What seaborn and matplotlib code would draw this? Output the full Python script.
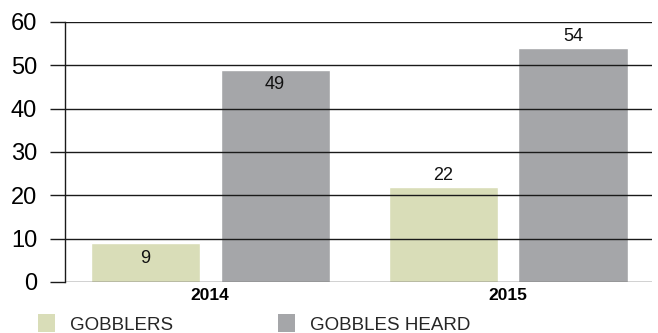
import matplotlib
matplotlib.use("Agg")
import matplotlib.pyplot as plt
import seaborn as sns
import pandas as pd

years = ["2014", "2015"]
series = ["GOBBLERS", "GOBBLES HEARD"]
gobblers = [9, 22]
gobbles_heard = [49, 54]
colors = ["#D9DDB8", "#A5A6A9"]

df = pd.DataFrame({
    "year": years * 2,
    "series": [series[0]] * len(years) + [series[1]] * len(years),
    "value": gobblers + gobbles_heard,
})

sns.set_theme(style="white")
plt.rcParams["font.family"] = ["Liberation Sans", "DejaVu Sans"]

fig = plt.figure(figsize=(6.58, 3.33), dpi=100)
ax = fig.add_axes([65/658, 1 - 282/333, (652 - 65)/658, (282 - 22)/333])

sns.barplot(data=df, x="year", y="value", hue="series", palette=colors,
            width=0.872, gap=0.16, ax=ax, legend=False, saturation=1)

ax.set_ylim(0, 60)
ax.set_xlim(-0.487, 1.483)
ax.set_yticks(range(0, 61, 10))
ax.set_axisbelow(False)
ax.yaxis.grid(True, color="#1a1a1a", linewidth=1.0, zorder=3)
ax.xaxis.grid(False)
for s in ["top", "right", "bottom"]:
    ax.spines[s].set_visible(False)
ax.spines["left"].set_color("#1a1a1a")
ax.spines["left"].set_linewidth(1.0)
ax.tick_params(axis="y", length=11, width=1.0, color="#1a1a1a", labelsize=17,
               pad=9, left=True, labelcolor="#000000")
ax.tick_params(axis="x", length=0, labelsize=12.5, pad=4, labelcolor="#000000")
for t in ax.get_xticklabels():
    t.set_fontweight("bold")
ax.set_xlabel("")
ax.set_ylabel("")

# value labels: 2014 inside top of bar, 2015 above bar
offsets = {"2014": -11, "2015": 8}
for cont, vals in zip(ax.containers, [gobblers, gobbles_heard]):
    for patch, v, yr in zip(cont.patches, vals, years):
        ax.annotate(str(v), (patch.get_x() + patch.get_width() / 2, v),
                    xytext=(0, offsets[yr]), textcoords="offset points",
                    ha="center", va="center", fontsize=13, color="#111111")

from matplotlib.patches import Patch
handles = [Patch(facecolor=c, edgecolor="none") for c in colors]
fig.legend(handles, series, loc="center left", bbox_to_anchor=(38/658, 1 - 324/333),
           ncol=2, frameon=False, fontsize=13.5, handlelength=0.9, handleheight=1.1,
           handletextpad=0.8, columnspacing=5.6, borderpad=0, borderaxespad=0)

fig.savefig("out.png", dpi=100)
